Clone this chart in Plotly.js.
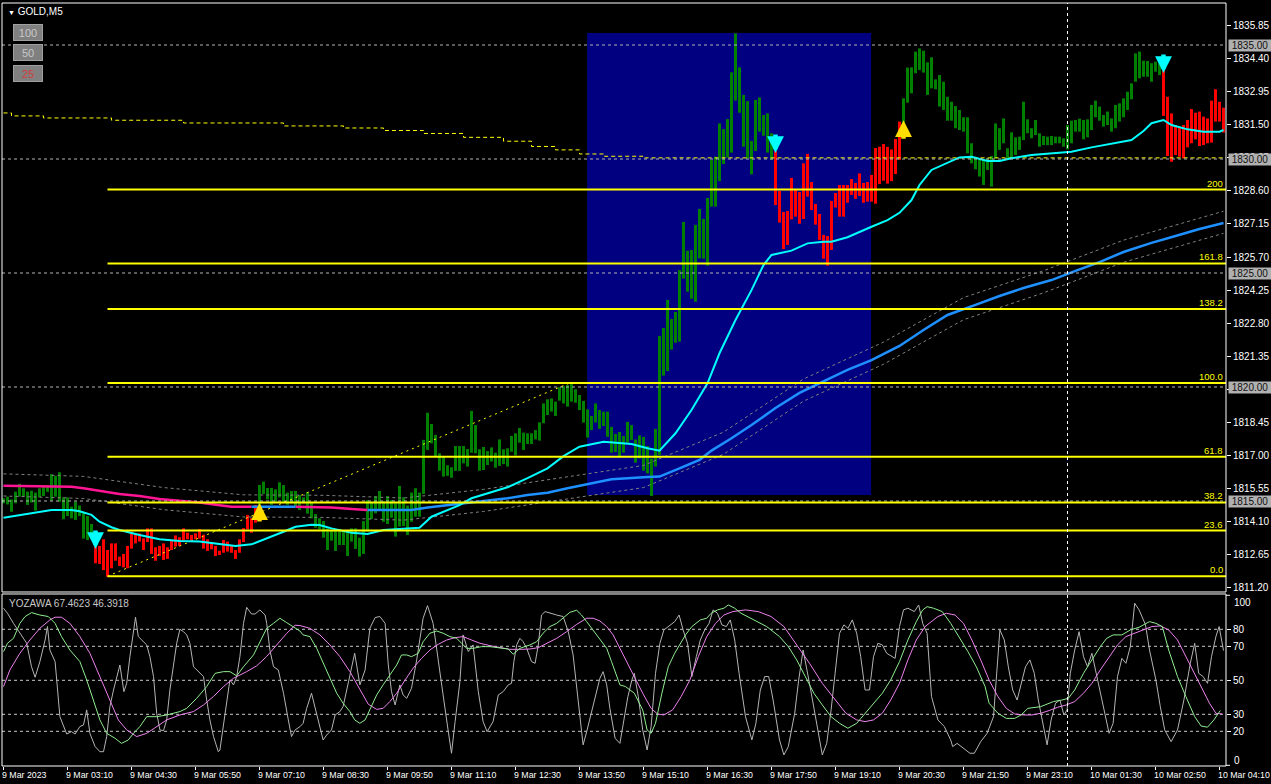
<!DOCTYPE html>
<html><head><meta charset="utf-8">
<script src="https://cdn.plot.ly/plotly-3.0.1.min.js"></script>
<style>html,body{margin:0;padding:0;background:#000;}#chart{width:1271px;height:784px;}</style>
</head><body><div id="chart"></div>
<script>
// ---------- DATA ----------
const barLow = [
1814.90,1814.85,1814.53,1814.90,1815.19,1815.19,1814.83,1814.93,1814.58,1815.16,
1815.22,1815.40,1815.01,1815.19,1814.97,1814.20,1814.34,1814.24,1814.17,1814.34,
1813.35,1813.29,1813.44,1812.27,1812.24,1811.97,1811.68,1812.05,1812.38,1812.15,
1812.09,1812.05,1812.91,1813.14,1813.22,1812.85,1813.20,1812.68,1812.38,1812.59,
1812.41,1812.46,1812.85,1813.00,1813.03,1813.22,1813.32,1813.26,1813.32,1813.35,
1812.91,1812.81,1812.88,1812.59,1812.63,1812.73,1812.78,1812.73,1812.46,1812.73,
1813.20,1813.76,1813.61,1814.05,1814.75,1815.31,1815.07,1814.83,1814.97,1815.16,
1814.97,1814.83,1814.90,1814.75,1814.60,1814.90,1814.45,1814.24,1813.83,1813.76,
1813.39,1812.85,1813.26,1812.81,1813.07,1813.07,1812.59,1813.22,1812.90,1812.56,
1812.68,1813.66,1814.21,1814.46,1814.56,1814.09,1813.99,1814.27,1813.44,1813.88,
1813.90,1813.51,1814.09,1814.31,1814.31,1815.31,1817.24,1817.53,1816.97,1816.33,
1816.07,1816.10,1816.02,1816.32,1816.32,1816.65,1816.51,1817.12,1817.09,1816.33,
1816.36,1816.58,1816.73,1816.46,1816.54,1816.62,1816.51,1817.16,1817.00,1817.56,
1817.24,1817.50,1817.50,1817.70,1817.65,1818.41,1818.77,1818.92,1818.73,1819.40,
1819.28,1819.14,1819.36,1819.31,1818.99,1818.44,1817.78,1818.11,1818.44,1818.16,
1818.29,1817.82,1817.12,1817.15,1816.97,1817.12,1817.56,1817.68,1816.68,1816.87,
1816.33,1816.21,1815.22,1816.51,1817.02,1820.50,1820.70,1821.64,1821.94,1821.99,
1824.75,1824.18,1823.87,1823.74,1825.64,1825.63,1825.32,1827.91,1827.91,1829.03,
1829.78,1830.06,1830.28,1832.56,1832.03,1830.54,1830.03,1829.33,1830.35,1831.20,
1831.02,1830.28,1829.96,1827.98,1827.21,1826.05,1826.23,1827.35,1827.47,1827.16,
1827.37,1828.35,1827.76,1827.12,1826.45,1825.63,1825.32,1826.01,1827.87,1827.47,
1827.47,1828.08,1828.42,1828.25,1828.38,1828.08,1828.13,1828.13,1828.04,1828.90,
1829.05,1828.92,1829.03,1829.34,1829.96,1831.27,1832.47,1832.88,1833.76,1833.90,
1833.79,1832.81,1833.10,1833.06,1832.30,1832.15,1831.68,1831.68,1831.35,1831.27,
1831.20,1830.25,1829.81,1829.55,1829.23,1828.86,1829.52,1828.79,1830.03,1830.40,
1830.69,1829.96,1830.03,1830.18,1830.40,1830.83,1831.13,1830.91,1831.05,1830.54,
1830.61,1830.61,1830.61,1830.69,1830.69,1830.54,1830.42,1830.69,1831.20,1831.20,
1830.86,1830.95,1831.27,1831.83,1831.68,1831.42,1831.49,1831.20,1831.35,1831.64,
1831.83,1832.15,1832.62,1833.39,1833.54,1833.61,1833.61,1833.39,1833.83,1833.68,
1831.89,1830.13,1829.88,1830.18,1830.10,1830.03,1830.51,1830.69,1830.86,1830.57,
1830.61,1830.69,1830.72,1831.64,1831.64,1831.16];
const barHigh = [
1815.12,1815.19,1815.07,1815.41,1815.75,1815.56,1815.41,1815.45,1815.37,1815.56,
1815.63,1815.67,1816.18,1816.10,1816.26,1815.16,1815.16,1814.75,1814.97,1814.80,
1814.53,1814.34,1813.99,1813.03,1813.03,1813.32,1812.85,1813.14,1813.14,1812.56,
1812.68,1813.03,1813.65,1813.58,1813.58,1813.36,1813.80,1813.80,1812.97,1813.03,
1813.14,1812.97,1813.32,1813.49,1813.41,1813.80,1813.61,1813.51,1813.58,1813.76,
1813.52,1813.32,1813.14,1813.03,1812.82,1813.29,1813.22,1813.06,1812.85,1813.32,
1813.81,1814.39,1814.24,1814.83,1815.70,1815.85,1815.57,1815.57,1815.51,1815.82,
1815.70,1815.37,1815.44,1815.44,1815.26,1815.16,1815.38,1814.93,1814.43,1814.24,
1814.12,1813.80,1813.73,1813.73,1813.76,1813.69,1813.73,1813.80,1813.80,1813.39,
1814.12,1815.04,1814.93,1815.22,1815.44,1815.00,1815.22,1815.04,1814.90,1815.66,
1815.16,1814.80,1815.37,1815.56,1815.37,1817.68,1818.87,1818.38,1817.90,1817.09,
1816.92,1816.57,1816.48,1817.41,1817.41,1817.41,1817.28,1818.95,1818.33,1817.27,
1817.37,1817.19,1817.35,1817.12,1817.70,1817.27,1817.31,1817.85,1817.97,1818.20,
1818.00,1817.97,1817.97,1818.11,1818.45,1819.28,1819.46,1819.50,1819.36,1819.99,
1820.04,1820.09,1820.13,1819.90,1819.65,1819.39,1819.02,1818.73,1819.28,1818.99,
1818.92,1818.92,1818.25,1817.94,1818.03,1817.85,1818.47,1818.33,1817.70,1817.88,
1817.81,1817.41,1816.86,1818.16,1822.24,1822.59,1823.82,1822.98,1823.29,1825.13,
1827.24,1825.98,1826.01,1827.11,1827.81,1827.37,1828.29,1829.96,1830.10,1831.56,
1831.31,1831.75,1833.80,1835.51,1834.02,1832.81,1832.54,1830.79,1832.59,1832.70,
1831.93,1832.00,1831.13,1830.35,1828.60,1827.68,1827.72,1829.17,1828.67,1828.55,
1829.81,1830.22,1828.99,1828.03,1827.59,1826.67,1826.62,1828.16,1828.51,1828.86,
1828.86,1828.86,1829.12,1828.95,1829.37,1828.95,1828.99,1829.30,1830.48,1830.54,
1830.66,1830.53,1830.42,1830.88,1831.64,1832.66,1834.01,1834.02,1834.71,1834.85,
1834.75,1834.24,1834.46,1833.49,1833.68,1833.39,1832.73,1832.51,1832.32,1832.15,
1831.83,1831.83,1830.69,1830.10,1830.03,1829.96,1830.03,1830.13,1831.56,1831.35,
1831.78,1830.47,1831.17,1830.95,1830.98,1832.51,1831.74,1831.35,1831.71,1831.13,
1831.01,1830.98,1831.01,1830.98,1830.98,1830.91,1831.49,1831.68,1831.71,1831.77,
1831.71,1831.74,1832.37,1832.56,1832.30,1831.93,1832.08,1831.78,1832.37,1832.44,
1832.66,1832.95,1833.32,1834.63,1834.71,1834.31,1834.30,1834.20,1834.27,1834.20,
1834.20,1832.73,1832.00,1831.49,1831.42,1831.49,1831.71,1832.19,1832.03,1832.08,
1831.86,1831.78,1832.56,1833.06,1832.51,1832.25];
// bar index ranges drawn red (bearish), all others green
const redRanges = [[23,63],[193,224],[290,305]];

// fast MA (cyan)
const cyanIdx = [0,4,7,12,17,19,22,24,27,29,34,39,44,49,54,58,62,66,70,73,77,79,82,87,91,95,99,104,107,111,114,117,121,126,131,136,140,144,150,153,157,161,164,168,172,176,179,183,187,190,192,197,201,205,207,211,215,217,221,224,227,229,232,236,239,242,246,249,252,257,262,267,272,277,282,285,287,290,292,296,300,304,305];
const cyanVal = [1814.27,1814.39,1814.49,1814.61,1814.61,1814.55,1814.39,1814.09,1813.85,1813.73,1813.51,1813.32,1813.25,1813.22,1813.11,1813.03,1813.10,1813.36,1813.65,1813.87,1813.96,1813.95,1813.80,1813.61,1813.55,1813.73,1813.77,1813.83,1814.31,1814.61,1814.82,1815.12,1815.34,1815.60,1816.00,1816.43,1816.97,1817.38,1817.60,1817.56,1817.50,1817.31,1817.21,1817.97,1818.99,1820.16,1821.48,1822.94,1824.25,1825.35,1825.79,1825.98,1826.30,1826.37,1826.37,1826.57,1826.89,1827.03,1827.32,1827.64,1828.20,1828.86,1829.52,1829.84,1830.07,1830.10,1829.91,1829.91,1830.03,1830.18,1830.25,1830.32,1830.51,1830.66,1830.83,1831.23,1831.57,1831.71,1831.49,1831.30,1831.20,1831.20,1831.27];

// slow MA (pink while falling, blue while rising)
const slowIdx = [0,10,17,20,24,29,34,39,44,49,54,57,62,73,82,88,91,102,106,111,116,121,126,131,136,141,146,152,161,164,169,174,177,182,187,193,199,205,211,217,224,230,236,243,249,255,262,268,274,280,287,293,299,305];
const slowVal = [1815.67,1815.66,1815.63,1815.56,1815.45,1815.31,1815.22,1815.09,1815.01,1814.93,1814.81,1814.75,1814.75,1814.75,1814.72,1814.64,1814.61,1814.61,1814.72,1814.82,1814.93,1815.01,1815.12,1815.26,1815.36,1815.56,1815.73,1815.95,1816.05,1816.07,1816.43,1816.80,1817.21,1817.75,1818.33,1819.08,1819.74,1820.26,1820.75,1821.18,1821.80,1822.50,1823.16,1823.60,1823.99,1824.34,1824.69,1825.09,1825.48,1825.92,1826.32,1826.62,1826.93,1827.19];
const pinkRanges = [[0,62],[73,91]];
const blueRanges = [[62,73],[91,305]];

// envelope around the slow MA (gray dotted)
const envIdx = [0,20,40,60,80,100,120,140,160,180,200,220,240,260,280,305];
const envUpper = [1816.19,1816.08,1815.59,1815.27,1815.25,1815.13,1815.51,1816.04,1816.56,1818.02,1820.35,1821.97,1823.92,1825.10,1826.44,1827.71];
const envLower = [1815.22,1815.11,1814.62,1814.30,1814.28,1814.16,1814.54,1815.07,1815.59,1817.05,1819.38,1821.00,1822.95,1824.13,1825.47,1826.74];

// yellow stepped dashed line
const stepIdx = [0,2,10,27,45,70,85,95,105,115,125,132,138,144,150,160,305.6];
const stepVal = [1832.02,1831.89,1831.80,1831.70,1831.58,1831.45,1831.36,1831.25,1831.12,1830.95,1830.78,1830.55,1830.40,1830.22,1830.12,1830.05,1830.05];

// Fibonacci retracement
const fibStartIdx = 26, fibEndIdx = 141.6;
const fibLow = 1811.70, fibHigh = 1820.18;
const fibLevels = [0, 23.6, 38.2, 61.8, 100, 138.2, 161.8, 200];
const fibLabels = ['0.0','23.6','38.2','61.8','100.0','138.2','161.8','200'];

// blue rectangle object
const rectStartIdx = 145.9, rectEndIdx = 216.9, rectLow = 1815.26, rectHigh = 1835.53;

// horizontal price levels (gray dashed + gray boxes on axis)
const priceLevels = [1835.00, 1830.00, 1825.00, 1820.00, 1815.00];
// price axis ticks
const priceTicks = [1811.20,1812.65,1814.10,1815.55,1817.00,1818.45,1819.90,1821.35,1822.80,1824.25,1825.70,1827.15,1828.60,1830.05,1831.50,1832.95,1834.40,1835.85];

// signal arrows
const downIdx = [23, 193, 290], downPrice = [1812.89, 1830.26, 1833.77];
const upIdx = [64, 225], upPrice = [1814.91, 1831.70];

// separator
const sepIdx = 266;

// time axis
const timeTickIdx = [0,16,32,48,64,80,96,112,128,144,160,176,192,208,224,240,256,272,288,304];
const timeTickText = ['9 Mar 2023','9 Mar 03:10','9 Mar 04:30','9 Mar 05:50','9 Mar 07:10','9 Mar 08:30','9 Mar 09:50','9 Mar 11:10','9 Mar 12:30','9 Mar 13:50','9 Mar 15:10','9 Mar 16:30','9 Mar 17:50','9 Mar 19:10','9 Mar 20:30','9 Mar 21:50','9 Mar 23:10','10 Mar 01:30','10 Mar 02:50','10 Mar 04:10'];

// oscillator (YOZAWA)
const oscGray = [[0,92.4],[1,89.4],[2.5,83.5],[4.1,77.6],[5.8,71.8],[7.0,58.0],[7.9,51.8],[9.1,61.0],[10.4,73.7],[11.0,81.6],[11.6,67.8],[12.9,61.0],[14.1,28.6],[15.8,18.4],[17.0,19.8],[17.9,18.4],[19.1,22.8],[20.0,23.7],[20.8,32.6],[21.6,18.8],[22.9,11.0],[24.1,8.0],[25.0,8.0],[25.8,16.9],[26.6,34.5],[27.5,44.3],[28.3,52.2],[29.1,59.0],[30.1,43.3],[30.8,48.2],[31.6,63.9],[32.5,77.6],[33.0,87.1],[33.7,75.7],[35.0,72.7],[35.8,70.8],[36.6,63.9],[37.5,52.2],[38.3,30.6],[39.1,20.8],[40.0,20.4],[40.8,26.7],[41.6,44.3],[42.5,58.0],[43.3,71.8],[44.1,80.0],[45.0,78.6],[45.8,76.7],[46.6,71.8],[47.5,58.0],[48.7,55.1],[50.0,52.2],[50.8,38.4],[51.6,26.7],[52.5,16.9],[53.7,8.0],[54.1,9.0],[55.0,24.7],[55.8,38.4],[56.6,50.2],[57.5,47.3],[58.3,52.2],[59.1,63.9],[60.0,83.5],[60.8,92.9],[62.0,89.0],[62.9,89.0],[64.1,91.4],[65.4,88.4],[65.8,83.5],[66.6,67.8],[67.5,58.0],[68.7,56.1],[70.0,42.4],[71.2,26.7],[72.0,16.9],[72.9,20.8],[74.1,22.7],
[74.9,24.7],[75.8,33.5],[77.0,42.4],[78.3,29.6],[79.9,14.9],[80.8,17.8],[82.0,20.8],[82.9,29.6],[84.1,31.6],[84.9,34.5],[86.2,49.2],[87.8,65.9],[89.1,47.3],[90.4,56.1],[91.6,80.6],[92.9,86.9],[94.1,87.5],[95.4,83.5],[96.2,59.0],[97.0,43.3],[97.9,35.5],[99.1,47.3],[99.9,41.4],[100.8,39.4],[102.0,45.3],[103.3,62.0],[104.9,86.5],[106.0,93.9],[107.4,83.5],[108.7,62.9],[109.9,41.4],[111.2,19.8],[112.0,7.1],[112.9,25.7],[114.1,49.2],[114.9,76.7],[116.2,66.9],[117.4,70.8],[118.7,43.3],[119.9,25.7],[120.9,19.8],[122.4,25.7],[123.7,41.4],[124.9,43.3],[126.2,47.3],[127.0,48.2],[127.6,61.0],[128.3,70.8],[129.1,74.7],[129.9,72.7],[130.8,68.8],[132.0,61.0],[132.9,60.0],[133.7,70.8],[134.5,88.4],[135.4,90.4],[136.6,89.4],[138.3,88.4],[139.9,87.5],[141.2,78.6],[142.4,64.9],[143.7,37.5],[144.9,12.0],[145.8,19.8],[147.0,31.6],[148.3,43.3],[149.1,51.2],[149.9,55.1],[150.8,47.3],[151.6,33.5],[152.9,15.9],[154.1,12.9],
[155.0,24.7],[156.1,40.4],[157.1,50.2],[157.7,54.1],[158.7,40.4],[159.8,20.8],[160.9,9.0],[161.9,22.8],[163.0,54.1],[164.1,71.8],[165.1,79.6],[166.2,81.6],[167.8,84.5],[168.9,88.4],[169.9,79.6],[171.0,71.8],[172.1,52.2],[173.2,63.9],[174.2,73.7],[175.3,79.6],[176.4,83.5],[177.4,91.4],[178.5,89.4],[179.6,82.6],[180.7,81.6],[181.7,85.5],[182.8,73.7],[183.9,54.1],[185.5,28.6],[187.1,14.9],[188.1,24.7],[189.2,44.3],[190.3,52.2],[191.3,52.2],[192.4,38.4],[194.0,14.9],[195.1,6.1],[196.2,11.0],[197.8,30.6],[198.8,50.2],[199.9,67.8],[201.5,48.2],[202.6,34.5],[203.6,20.8],[204.7,6.1],[205.8,12.9],[206.9,32.6],[207.9,54.1],[209.0,77.6],[210.1,82.6],[211.1,80.6],[212.2,85.5],[213.3,77.6],[214.3,63.9],[215.4,44.3],[216.5,44.3],[217.5,63.9],[218.6,71.8],[219.7,70.8],[220.8,65.9],[222.9,62.9],[224.0,81.6],[225.0,91.4],[226.1,92.4],[227.7,90.4],[228.8,94.3],[229.8,83.5],[230.9,77.6],[232.0,40.4],[233.6,26.7],[235.2,22.8],[236.8,14.9],[237.3,11.0],[238.4,12.9],[240.0,10.0],[241.6,7.1],[242.7,7.1],[244.3,13.9],[245.9,18.8],[247.5,28.6],[249.1,79.6],[250.2,73.7],[251.2,58.0],[252.3,44.3],[253.4,38.4],[254.4,48.2],[255.5,58.0],[256.6,62.0],[257.7,54.1],[258.7,38.4],[259.8,24.7],[260.9,12.0],[261.9,26.7],[263.0,36.5],[264.1,38.4],[265.1,29.6],[265.9,32.6],[266.7,54.1],[267.8,67.8],[268.9,78.6],[270.0,63.9],[271.0,58.0],[272.1,65.9],[273.2,54.1],[274.8,36.5],[276.4,18.8],[277.4,24.7],[278.5,52.2],[279.6,62.9],[280.6,60.0],[281.7,69.8],[282.8,95.3],[283.9,91.4],[285.5,82.6],[286.5,67.8],[288.1,50.2],[289.2,34.5],[290.3,20.8],[291.9,13.9],[293.5,20.8],[295.1,38.4],[296.7,60.0],[297.8,71.8],[298.8,54.1],[299.9,52.2],[301.0,48.2],[302.0,63.9],[303.1,75.7],[303.9,81.6],[305.0,67.5]];
const oscGreen = [[0,66.9],[1,71.8],[2.5,74.7],[4.1,83.5],[5.4,87.5],[7.0,89.8],[9.1,88.4],[11.2,87.5],[12.9,83.5],[14.5,75.7],[16.6,67.8],[19.1,61.0],[20.8,50.2],[22.5,38.4],[24.1,26.7],[25.8,18.8],[27.9,15.9],[29.5,12.9],[31.2,14.9],[32.5,18.8],[34.1,22.8],[35.8,28.6],[38.3,28.6],[40.8,29.6],[44.1,31.6],[45.8,33.5],[48.3,39.4],[50.8,46.3],[52.9,54.1],[55.0,55.1],[56.6,55.1],[58.3,52.6],[60.0,58.0],[62.5,64.9],[64.1,72.7],[65.8,80.6],[67.5,83.5],[69.1,86.5],[70.8,83.9],[72.5,81.5],[74.1,79.0],
[74.9,76.7],[76.6,75.7],[78.3,68.8],[79.9,60.0],[81.6,51.2],[83.3,42.4],[84.9,36.5],[86.6,31.6],[87.8,26.7],[89.1,24.7],[90.4,26.7],[91.6,32.6],[93.3,41.4],[94.9,47.3],[96.6,53.1],[98.3,59.0],[99.5,64.9],[100.8,64.9],[102.0,63.9],[103.7,65.9],[104.9,72.7],[106.6,77.7],[108.3,79.0],[109.9,77.7],[111.6,75.7],[113.3,74.7],[114.5,71.8],[115.8,68.8],[117.4,68.8],[119.5,69.8],[121.6,69.8],[124.1,69.2],[126.2,68.4],[127.4,65.3],[129.1,68.8],[131.6,70.8],[133.3,72.7],[134.9,77.7],[136.6,81.6],[138.3,83.5],[139.9,86.5],[141.6,90.0],[143.3,91.2],[144.5,88.4],[145.8,84.5],[147.4,79.6],[149.1,74.7],[150.8,68.8],[152.0,61.0],[153.3,53.1],[154.1,47.3],
[155.5,46.3],[157.7,42.4],[159.8,32.6],[160.9,20.8],[161.9,18.8],[163.0,24.7],[164.6,42.4],[166.2,58.0],[167.8,65.9],[170.5,76.7],[172.1,81.6],[174.2,85.5],[175.8,86.5],[176.9,89.4],[178.5,91.4],[180.1,92.4],[181.2,94.3],[182.8,92.4],[184.4,89.4],[187.6,85.5],[190.8,81.6],[194.0,75.7],[196.2,69.8],[198.3,62.0],[200.4,52.2],[202.6,42.4],[204.7,35.5],[206.9,28.6],[209.0,24.7],[211.1,21.8],[213.3,24.7],[215.4,30.6],[217.5,36.5],[219.7,42.4],[221.8,50.2],[224.0,61.0],[226.1,73.7],[228.2,84.5],[229.8,91.4],[230.9,93.3],[232.5,92.4],[234.7,90.4],[236.8,83.5],[238.9,75.7],[241.1,66.9],[243.2,58.0],[245.4,46.3],[246.4,36.5],[248.6,30.6],[250.7,27.6],[252.8,27.6],[254.4,29.6],[256.1,33.5],[259.3,34.5],[262.5,37.5],[264.6,38.4],[266.2,39.4],[267.8,44.3],[270.0,54.1],[272.1,62.0],[274.2,69.8],[275.8,74.7],[277.4,76.7],[279.6,76.7],[281.7,79.6],[283.9,81.2],[286.5,84.5],[288.1,83.5],[289.7,81.6],[291.3,67.8],[293.5,52.2],[295.6,40.4],[297.8,28.6],[299.4,23.1],[301.0,22.4],[302.6,26.7],[304.2,32.2]];
const oscViolet = [[0,46.3],[1.6,56.1],[4.1,65.9],[6.6,73.7],[9.1,80.6],[11.6,85.5],[12.9,87.1],[14.5,87.1],[16.6,83.5],[19.1,75.7],[21.6,65.9],[24.1,52.2],[26.6,38.4],[28.7,26.7],[30.8,20.8],[33.3,16.9],[35.8,18.8],[38.3,22.8],[40.8,26.7],[44.1,29.6],[47.5,31.6],[50.0,35.5],[52.5,40.5],[55.0,46.3],[57.5,51.2],[60.8,55.1],[63.3,58.5],[65.8,64.0],[68.3,70.8],[70.8,77.6],[72.9,82.4],
[74.1,82.2],[76.6,80.6],[79.1,76.7],[81.6,70.8],[84.1,63.9],[86.6,55.1],[89.1,44.3],[91.2,35.9],[93.3,32.9],[94.9,33.5],[96.6,37.5],[98.3,42.4],[100.4,50.2],[102.4,57.1],[104.5,62.9],[106.6,67.8],[108.7,71.2],[110.8,73.7],[112.9,75.1],[114.9,75.7],[117.0,73.7],[119.1,71.8],[121.6,70.4],[124.1,69.2],[126.6,68.2],[129.1,68.2],[131.6,68.4],[133.7,69.2],[135.8,71.8],[138.3,74.7],[140.8,78.6],[143.3,82.9],[145.8,86.5],[147.4,86.5],[149.1,84.9],[150.8,81.6],[152.4,76.7],[154.1,68.8],
[155.5,62.0],[157.7,52.2],[159.8,42.4],[161.9,33.5],[163.5,30.2],[165.1,29.6],[167.3,32.6],[169.4,40.4],[171.6,50.2],[173.7,63.9],[175.8,75.7],[178.0,83.5],[180.1,88.4],[182.3,90.4],[185.5,91.4],[188.7,90.4],[191.9,87.5],[195.1,81.6],[198.3,70.8],[201.5,60.0],[204.7,48.2],[207.9,38.4],[210.6,30.6],[213.3,26.7],[215.4,25.7],[217.5,26.7],[219.7,30.6],[221.8,38.4],[224.0,48.2],[226.1,62.0],[228.2,73.7],[230.4,81.6],[233.6,87.5],[235.7,89.4],[237.9,88.4],[240.0,83.5],[242.1,73.7],[244.3,62.0],[246.4,50.2],[248.6,40.4],[250.7,33.5],[252.8,30.2],[255.0,29.6],[257.1,29.6],[259.3,30.6],[261.4,32.2],[263.5,34.1],[265.7,35.5],[267.8,37.5],[270.0,42.4],[272.1,48.2],[274.2,56.1],[276.4,63.9],[278.5,70.8],[280.6,75.7],[283.9,78.6],[287.1,81.6],[289.2,82.0],[291.3,79.6],[293.5,73.7],[295.6,63.9],[297.8,54.1],[299.9,44.3],[301.5,36.5],[303.1,30.6],[304.7,30.2]];
const oscLevels = [20, 30, 50, 70, 80];
const oscTicks = [20, 30, 50, 70, 80];
const oscEdgeTicks = [100, 0];
const oscLabel = 'YOZAWA 67.4623 46.3918';

// ---------- LAYOUT CONSTANTS ----------
const X_MIN = -0.375, X_MAX = 305.625;
const MAIN_DOMAIN = [0.22805, 1], OSC_DOMAIN = [0, 0.22543];
const FONT = 'Tahoma, "Liberation Sans", Arial, sans-serif';

// ---------- BUILD ----------
const inRanges = (i, rs) => rs.some(r => i >= r[0] && i <= r[1]);
const gx=[],gb=[],gl=[],rx=[],rb=[],rl=[];
barLow.forEach((lo,i)=>{
  const hi = barHigh[i];
  if (inRanges(i, redRanges)) { rx.push(i); rb.push(lo); rl.push(hi-lo); }
  else { gx.push(i); gb.push(lo); gl.push(hi-lo); }
});
function segTrace(idx, val, ranges){
  const xs=[], ys=[];
  ranges.forEach((r,k)=>{
    if (k>0){ xs.push(null); ys.push(null); }
    idx.forEach((x,j)=>{ if (x>=r[0] && x<=r[1]) { xs.push(x); ys.push(val[j]); } });
  });
  return {x:xs, y:ys};
}
const pink = segTrace(slowIdx, slowVal, pinkRanges);
const blue = segTrace(slowIdx, slowVal, blueRanges);
const fibPrice = lv => fibLow + (fibHigh - fibLow) * lv / 100;

const traces = [
  {type:'bar', x:gx, base:gb, y:gl, width:0.75, marker:{color:'#008000', line:{width:0}}, xaxis:'x', yaxis:'y', hoverinfo:'skip'},
  {type:'bar', x:rx, base:rb, y:rl, width:0.75, marker:{color:'#ff0000', line:{width:0}}, xaxis:'x', yaxis:'y', hoverinfo:'skip'},
  {type:'scatter', mode:'lines', x:envIdx, y:envUpper, line:{color:'#808080', width:1, dash:'3px,3px'}, xaxis:'x', yaxis:'y'},
  {type:'scatter', mode:'lines', x:envIdx, y:envLower, line:{color:'#808080', width:1, dash:'3px,3px'}, xaxis:'x', yaxis:'y'},
  {type:'scatter', mode:'lines', x:stepIdx, y:stepVal, line:{color:'#ffff00', width:1, dash:'4px,3px', shape:'hv'}, xaxis:'x', yaxis:'y'},
  {type:'scatter', mode:'lines', x:[fibStartIdx, fibEndIdx], y:[fibLow, fibHigh], line:{color:'#ffff00', width:1, dash:'2px,4px'}, xaxis:'x', yaxis:'y'},
  {type:'scatter', mode:'lines', x:pink.x, y:pink.y, connectgaps:false, line:{color:'#ff1493', width:2.5}, xaxis:'x', yaxis:'y'},
  {type:'scatter', mode:'lines', x:blue.x, y:blue.y, connectgaps:false, line:{color:'#1e90ff', width:2.5}, xaxis:'x', yaxis:'y'},
  {type:'scatter', mode:'lines', x:cyanIdx, y:cyanVal, line:{color:'#00ffff', width:2}, xaxis:'x', yaxis:'y'},
  {type:'scatter', mode:'lines', x:oscGray.map(p=>p[0]), y:oscGray.map(p=>p[1]), line:{color:'#b4b4b4', width:1}, xaxis:'x2', yaxis:'y2'},
  {type:'scatter', mode:'lines', x:oscViolet.map(p=>p[0]), y:oscViolet.map(p=>p[1]), line:{color:'#ee82ee', width:1}, xaxis:'x2', yaxis:'y2'},
  {type:'scatter', mode:'lines', x:oscGreen.map(p=>p[0]), y:oscGreen.map(p=>p[1]), line:{color:'#90ee90', width:1}, xaxis:'x2', yaxis:'y2'}
];

const shapes = [];
shapes.push({type:'rect', layer:'below', xref:'x', yref:'y', x0:rectStartIdx, x1:rectEndIdx, y0:rectLow, y1:rectHigh, fillcolor:'#000080', line:{width:0}});
priceLevels.forEach(p => shapes.push({type:'line', layer:'above', xref:'paper', yref:'y', x0:0, x1:1, y0:p, y1:p, line:{color:'#b4b4b4', width:1, dash:'3px,3px'}}));
fibLevels.forEach(lv => { const p = fibPrice(lv); shapes.push({type:'line', layer:'above', xref:'x', yref:'y', x0:fibStartIdx, x1:X_MAX, y0:p, y1:p, line:{color:'#ffff00', width:2}}); });
oscLevels.forEach(v => shapes.push({type:'line', layer:'below', xref:'paper', yref:'y2', x0:0, x1:1, y0:v, y1:v, line:{color:'#c8c8c8', width:1, dash:'3px,3px'}}));
shapes.push({type:'line', layer:'above', xref:'x', yref:'paper', x0:sepIdx, x1:sepIdx, y0:0, y1:1, line:{color:'#ffffff', width:1, dash:'3px,3px'}});
shapes.push({type:'rect', layer:'above', xref:'paper', yref:'paper', x0:0, x1:1, y0:MAIN_DOMAIN[0], y1:MAIN_DOMAIN[1], line:{color:'#ffffff', width:1}});
shapes.push({type:'rect', layer:'above', xref:'paper', yref:'paper', x0:0, x1:1, y0:OSC_DOMAIN[0], y1:OSC_DOMAIN[1], line:{color:'#ffffff', width:1}});
// edge ticks of the oscillator scale
oscEdgeTicks.forEach(v => shapes.push({type:'line', layer:'above', xref:'paper', yref:'y2', x0:1, x1:1.0033, y0:v, y1:v, line:{color:'#ffffff', width:1}}));

const annotations = [];
downIdx.forEach((x,k) => annotations.push({xref:'x', yref:'y', x:x, y:downPrice[k], ax:0, ay:-20, text:'', showarrow:true, arrowhead:2, arrowsize:0.75, arrowwidth:4.5, arrowcolor:'#00ffff', standoff:0}));
upIdx.forEach((x,k) => annotations.push({xref:'x', yref:'y', x:x, y:upPrice[k], ax:0, ay:20, text:'', showarrow:true, arrowhead:2, arrowsize:0.75, arrowwidth:4.5, arrowcolor:'#ffdd00', standoff:0}));
fibLevels.forEach((lv,k) => annotations.push({xref:'paper', yref:'y', x:1, y:fibPrice(lv), xanchor:'right', yanchor:'bottom', xshift:-1, yshift:-1, text:fibLabels[k], showarrow:false, font:{family:FONT, size:9.5, color:'#ffff00'}}));
priceLevels.forEach(p => annotations.push({xref:'paper', yref:'y', x:1, y:p, xanchor:'left', yanchor:'middle', xshift:2, text:p.toFixed(2), showarrow:false, bgcolor:'#b0b0b0', width:42, height:11, borderpad:0, font:{family:FONT, size:10, color:'#101010'}}));
// oscillator 100 / 0 labels, kept inside the panel as the terminal draws them
annotations.push({xref:'paper', yref:'y2', x:1, y:100, xanchor:'left', yanchor:'middle', xshift:6, yshift:-7, text:'100', showarrow:false, font:{family:FONT, size:10, color:'#ffffff'}});
annotations.push({xref:'paper', yref:'y2', x:1, y:0, xanchor:'left', yanchor:'middle', xshift:6, yshift:5, text:'0', showarrow:false, font:{family:FONT, size:10, color:'#ffffff'}});
annotations.push({xref:'paper', yref:'paper', x:0.0033, y:0.9895, xanchor:'left', yanchor:'middle', text:'<span style="font-size:7px">▼</span> GOLD,M5', showarrow:false, font:{family:FONT, size:10, color:'#ffffff'}});
[['100',0.9607,'#c8c8c8'],['50',0.9345,'#c8c8c8'],['25',0.9082,'#d04040']].forEach(b => annotations.push({xref:'paper', yref:'paper', x:0.02124, y:b[1], xanchor:'center', yanchor:'middle', text:b[0], showarrow:false, bgcolor:'#808080', bordercolor:'#a0a0a0', borderwidth:1, width:28, height:15, borderpad:0, font:{family:FONT, size:11, color:b[2]}}));
annotations.push({xref:'paper', yref:'paper', x:0.004, y:0.2136, xanchor:'left', yanchor:'middle', text:oscLabel, showarrow:false, font:{family:FONT, size:10, color:'#c8c8c8'}});

const layout = {
  width:1271, height:784,
  margin:{l:2, r:45, t:3, b:18, pad:0},
  paper_bgcolor:'#000000', plot_bgcolor:'#000000',
  showlegend:false, barmode:'overlay',
  font:{family:FONT, size:10, color:'#ffffff'},
  xaxis:{domain:[0,1], anchor:'y', range:[X_MIN, X_MAX], showgrid:false, zeroline:false, showticklabels:false, ticks:'', showline:false},
  yaxis:{domain:MAIN_DOMAIN, anchor:'x', side:'right', range:[1811.009, 1836.842], showgrid:false, zeroline:false, showline:false,
         tickmode:'array', tickvals:priceTicks, ticktext:priceTicks.map(v=>v.toFixed(2)), ticks:'outside', ticklen:4, tickcolor:'#ffffff', tickwidth:1,
         tickfont:{family:FONT, size:10, color:'#ffffff'}},
  xaxis2:{domain:[0,1], anchor:'y2', matches:'x', range:[X_MIN, X_MAX], showgrid:false, zeroline:false, showline:false,
          tickmode:'array', tickvals:timeTickIdx, ticktext:timeTickText, ticks:'outside', ticklen:3, tickcolor:'#ffffff',
          ticklabelposition:'outside right', ticklabeloverflow:'allow', ticklabelshift:-2, tickfont:{family:FONT, size:8.8, color:'#ffffff'}, tickangle:0},
  yaxis2:{domain:OSC_DOMAIN, anchor:'x2', side:'right', range:[-0.41, 100.76], showgrid:false, zeroline:false, showline:false,
          tickmode:'array', tickvals:oscTicks, ticktext:oscTicks.map(String), ticks:'outside', ticklen:4, tickcolor:'#ffffff',
          tickfont:{family:FONT, size:10, color:'#ffffff'}},
  shapes:shapes, annotations:annotations
};
Plotly.newPlot('chart', traces, layout, {staticPlot:true, displayModeBar:false});
</script></body></html>
